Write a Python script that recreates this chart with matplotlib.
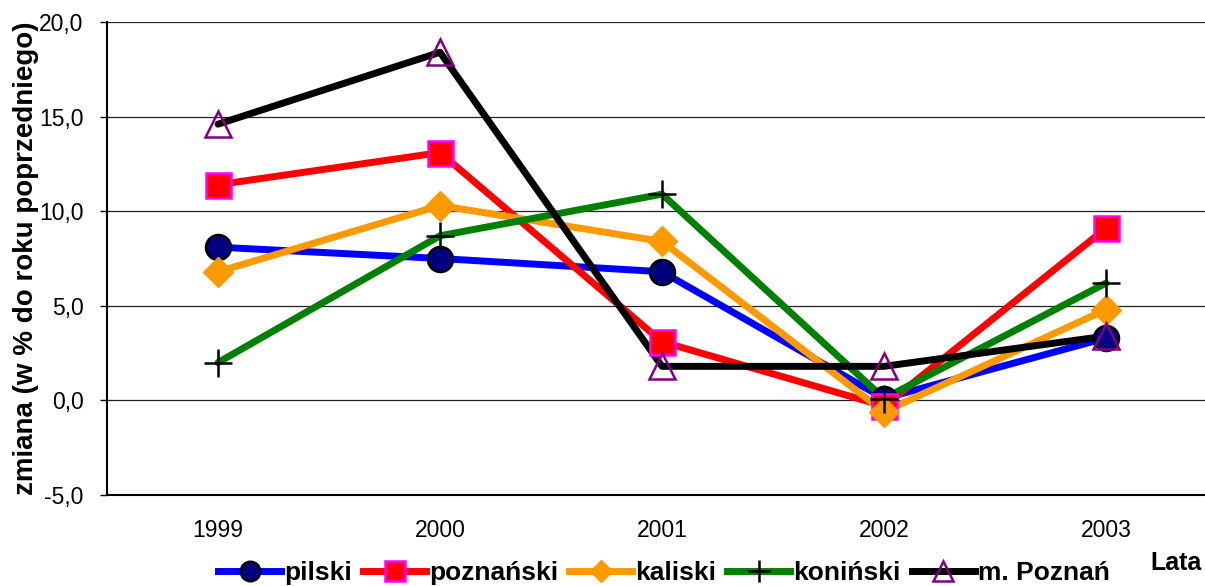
import matplotlib
matplotlib.use("Agg")
import matplotlib.pyplot as plt

years = ["1999", "2000", "2001", "2002", "2003"]
pilski = [8.1, 7.5, 6.8, 0.1, 3.3]
poznanski = [11.4, 13.1, 3.1, -0.3, 9.1]
kaliski = [6.8, 10.3, 8.4, -0.6, 4.8]
koninski = [2.0, 8.7, 10.9, 0.1, 6.2]
m_poznan = [14.6, 18.4, 1.8, 1.8, 3.4]
y_ticks = [-5, 0, 5, 10, 15, 20]
y_tick_labels = ["-5,0", "0,0", "5,0", "10,0", "15,0", "20,0"]

plt.rcParams['font.family'] = ['Liberation Sans', 'DejaVu Sans']

fig = plt.figure(figsize=(12.05, 5.86), dpi=100)
ax = fig.add_axes([107/1205, 91/586, 1110/1205, 473/586])

x = list(range(len(years)))
series = [
    ("pilski", pilski, "#0000FF", dict(marker="o", markerfacecolor="#000080", markeredgecolor="black", markeredgewidth=1.8), 18),
    ("poznański", poznanski, "#FF0000", dict(marker="s", markerfacecolor="#FF0000", markeredgecolor="#FF00FF", markeredgewidth=1.8), 18),
    ("kaliski", kaliski, "#FF9900", dict(marker="D", markerfacecolor="#FF9900", markeredgecolor="#FF9900", markeredgewidth=1), 15),
    ("koniński", koninski, "#008000", dict(marker="+", markerfacecolor="black", markeredgecolor="black", markeredgewidth=1.8), 20),
    ("m. Poznań", m_poznan, "#000000", dict(marker="^", markerfacecolor="none", markeredgecolor="#800080", markeredgewidth=1.8), 19),
]

for name, vals, col, mk, ms in series:
    ax.plot(x, vals, color=col, lw=5, zorder=2, solid_capstyle="round")
handles = []
for name, vals, col, mk, ms in series:
    ax.plot(x, vals, ls="none", zorder=3, markersize=ms, **mk)
    h, = ax.plot([], [], color=col, lw=5, markersize=ms * 0.78, **mk)
    handles.append(h)

ax.set_xlim(-0.5, 4.5)
ax.set_ylim(-5, 20)
ax.set_yticks(y_ticks)
ax.set_yticklabels(y_tick_labels, fontsize=16.5)
ax.set_xticks(x)
ax.set_xticklabels(years, fontsize=16.5)
ax.tick_params(axis="x", length=0, pad=17)
ax.tick_params(axis="y", length=5, width=1, direction="out", pad=12)
for yv in [0, 5, 10, 15, 20]:
    ax.axhline(yv, color="#222222", lw=0.9, zorder=1)
ax.spines["top"].set_visible(False)
ax.spines["right"].set_visible(False)
ax.spines["left"].set_linewidth(1.5)
ax.spines["bottom"].set_linewidth(1.5)
ax.set_ylabel("zmiana (w % do roku poprzedniego)", fontsize=20, fontweight="bold", labelpad=0)

fig.text(1176/1205, 1 - 563/586, "Lata", fontsize=18, fontweight="bold", ha="center", va="center")

leg = fig.legend(handles, [s[0] for s in series], loc="center", bbox_to_anchor=(664/1205, 1 - 573/586),
                 ncol=5, frameon=False, prop=dict(size=19, weight="bold"), handlelength=2.4,
                 columnspacing=0.4, handletextpad=0.12, borderaxespad=0, borderpad=0)

fig.savefig("out.png", dpi=100)
